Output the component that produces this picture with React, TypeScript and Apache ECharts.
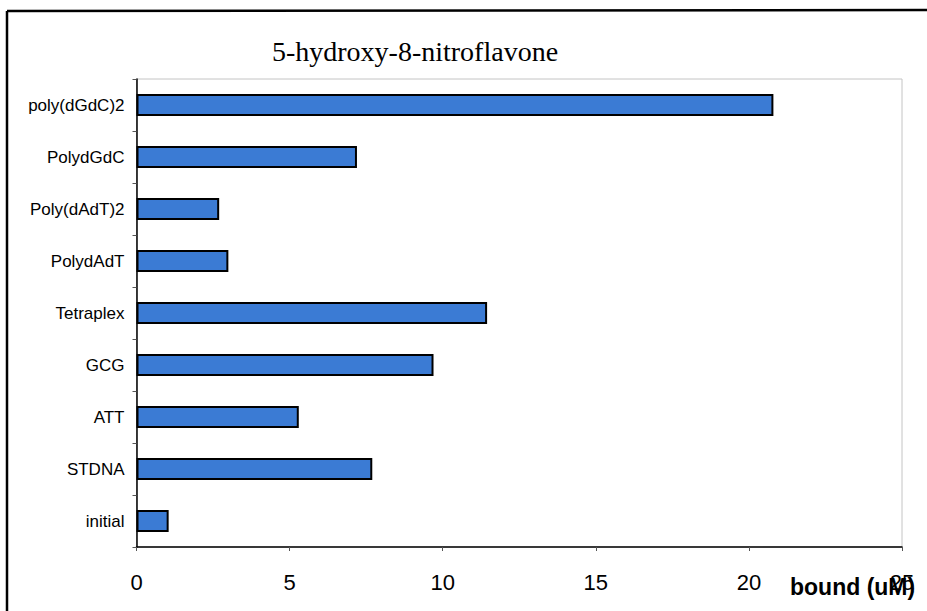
import React, { useEffect, useRef } from "react";
import * as echarts from "echarts";

const categories = ["poly(dGdC)2", "PolydGdC", "Poly(dAdT)2", "PolydAdT", "Tetraplex", "GCG", "ATT", "STDNA", "initial"];
const boundValues = [20.8, 7.2, 2.7, 3.0, 11.45, 9.7, 5.3, 7.7, 1.05];
const xTicks = [0, 5, 10, 15, 20, 25];
const titleText = "5-hydroxy-8-nitroflavone";
const axisTitle = "bound (uM)";

export default function App() {
  const ref = useRef<HTMLDivElement>(null);
  useEffect(() => {
    const chart = echarts.init(ref.current!, null, { renderer: "svg" });
    chart.setOption({
      animation: false,
      backgroundColor: "#ffffff",
      title: {
        text: titleText,
        left: 410,
        top: 32,
        textAlign: "center",
        textStyle: { fontFamily: "Liberation Serif", fontSize: 28, fontWeight: "normal", color: "#000" },
      },
      grid: {
        left: 136.5,
        right: 25,
        top: 79,
        bottom: 64,
        show: true,
        borderColor: "#c4c4c4",
        borderWidth: 1,
      },
      xAxis: {
        type: "value",
        min: xTicks[0],
        max: xTicks[xTicks.length - 1],
        interval: 5,
        axisLine: { show: true, lineStyle: { color: "#000", width: 1.5 } },
        axisTick: { show: true, length: 4, inside: false, lineStyle: { color: "#555" } },
        splitLine: { show: false },
        axisLabel: { fontFamily: "Liberation Sans", fontSize: 22, color: "#000", margin: 24 },
      },
      yAxis: {
        type: "category",
        data: categories,
        inverse: true,
        axisLine: { show: true, lineStyle: { color: "#000", width: 1.5 } },
        axisTick: { show: true, length: 4, lineStyle: { color: "#555" } },
        axisLabel: { fontFamily: "Liberation Sans", fontSize: 17, color: "#000", margin: 12 },
      },
      series: [
        {
          type: "bar",
          data: boundValues,
          barWidth: 22,
          itemStyle: { color: "#3b7bd4", borderColor: "#000", borderWidth: 2 },
        },
      ],
      graphic: [
        { type: "line", shape: { x1: 7, y1: 11, x2: 927, y2: 10 }, style: { stroke: "#000", lineWidth: 2.5 } },
        { type: "line", shape: { x1: 7, y1: 11, x2: 7, y2: 611 }, style: { stroke: "#000", lineWidth: 2.5 } },
        {
          type: "text",
          left: 790,
          top: 575,
          z: 10,
          style: { text: axisTitle, fontFamily: "Liberation Sans", fontSize: 23, fontWeight: "bold", fill: "#000" },
        },
      ],
    });
    return () => chart.dispose();
  }, []);
  return <div ref={ref} style={{ position: "fixed", left: 0, top: 0, width: 927, height: 611 }} />;
}
